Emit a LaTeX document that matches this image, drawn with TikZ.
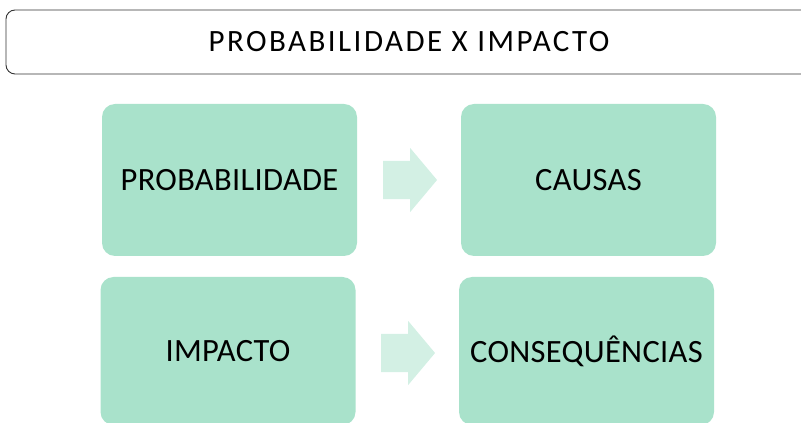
\documentclass[tikz,border=0pt]{standalone}
\usepackage{fontspec}
\setmainfont{Carlito}
\usetikzlibrary{positioning,shapes.arrows}
\definecolor{boxgreen}{HTML}{A9E2CB}
\definecolor{arrowgreen}{HTML}{D3F0E4}
\begin{document}
\begin{tikzpicture}[x=1pt,y=1pt,
    titlebox/.style={draw=black!80,line width=0.9pt,rounded corners=9pt,minimum width=806pt,minimum height=64pt,inner sep=0pt,font=\fontsize{31}{36}\selectfont\addfontfeature{LetterSpace=8}},
    greenbox/.style={fill=boxgreen,rounded corners=13pt,minimum width=255pt,inner sep=0pt,font=\fontsize{32.5}{38}\selectfont\addfontfeature{LetterSpace=1}},
    gotoarrow/.style={single arrow,fill=arrowgreen,minimum width=64pt,single arrow head extend=13pt,single arrow tip angle=100,minimum height=54pt,inner xsep=0pt,inner ysep=19pt}]
\useasboundingbox (0,0) rectangle (801,423);
\node[titlebox] (title) at (409,381) {PROBABILIDADE X IMPACTO};
\node[greenbox,minimum height=152pt] (prob) at (229.5,243) {PROBABILIDADE};
\node[greenbox,minimum height=152pt] (causas) at (588.5,243) {CAUSAS};
\node[greenbox,minimum height=148pt] (impacto) at (228,72) {IMPACTO};
\node[greenbox,minimum height=148pt] (conseq) at (586.5,72) {CONSEQUÊNCIAS};
\node[gotoarrow] (probarrow) at (402,243) {};
\node[gotoarrow] (impactoarrow) at (400,70) {};
\end{tikzpicture}
\end{document}
